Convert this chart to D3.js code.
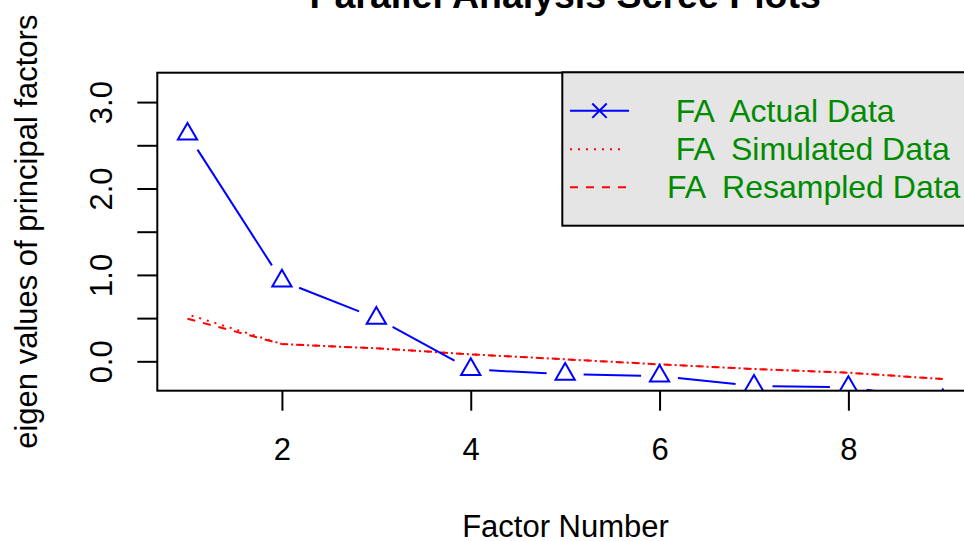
<!DOCTYPE html>
<html><head><meta charset="utf-8">
<script src="https://cdn.jsdelivr.net/npm/d3@7"></script>
<style>
body{margin:0;background:#fff}
svg{display:block}
text{font-family:"Liberation Sans",Arial,Helvetica,sans-serif}
</style>
</head><body>
<svg id="c" width="964" height="541"></svg>
<script>
const factors = [1, 2, 3, 4, 5, 6, 7, 8, 9];
const actual = [2.63, 0.93, 0.50, -0.094, -0.149, -0.17, -0.286, -0.30, -0.455];
const simulated = [0.544, 0.20, 0.15, 0.081, 0.023, -0.035, -0.089, -0.132, -0.205];
const resampled = [0.493, 0.20, 0.15, 0.081, 0.023, -0.035, -0.089, -0.132, -0.205];
const xTicks = [2, 4, 6, 8];
const yTicks = [0, 0.5, 1, 1.5, 2, 2.5, 3];
const yTickLabels = ["0.0", "", "1.0", "", "2.0", "", "3.0"];
const legendLabels = ["  FA  Actual Data", "  FA  Simulated Data", " FA  Resampled Data"];
const titleText = "Parallel Analysis Scree Plots";
const xTitle = "Factor Number";
const yTitle = "eigen values of principal factors";

const svg = d3.select("#c");
const L = 157.3, R = 973, T = 72.7, B = 390.7;
const x = d3.scaleLinear().domain([0.68, 9.32]).range([L, R]);
const y = d3.scaleLinear().domain([-0.34, 3.34]).range([B, T]);
const FS = 31;

svg.append("defs").append("clipPath").attr("id", "clip")
  .append("rect").attr("x", L).attr("y", T).attr("width", R - L).attr("height", B - T);

// Title
svg.append("text").attr("x", (L + R) / 2).attr("y", 8)
  .attr("text-anchor", "middle").attr("font-weight", "bold").attr("font-size", 37.5)
  .text(titleText);

// X axis
const xAxis = svg.append("g").attr("transform", `translate(0,${B})`)
  .call(d3.axisBottom(x).tickValues(xTicks).tickFormat(d3.format("d")).tickSize(20).tickPadding(27));
xAxis.select(".domain").remove();
xAxis.selectAll("line").attr("stroke", "#000").attr("stroke-width", 2);
xAxis.selectAll("text").attr("font-size", FS).attr("fill", "#000")
  .attr("font-family", "'Liberation Sans',Arial,sans-serif");

// Y axis
const yAxis = svg.append("g").attr("transform", `translate(${L},0)`)
  .call(d3.axisLeft(y).tickValues(yTicks).tickFormat((d, i) => yTickLabels[i]).tickSize(20));
yAxis.select(".domain").remove();
yAxis.selectAll("line").attr("stroke", "#000").attr("stroke-width", 2);
yAxis.selectAll("text").remove();
yAxis.selectAll(".tick").append("text")
  .attr("transform", "translate(-45,0) rotate(-90)")
  .attr("text-anchor", "middle").attr("font-size", FS).attr("fill", "#000")
  .text((d, i) => yTickLabels[i]);

// Axis titles
svg.append("text").attr("x", 565.5).attr("y", 536.5).attr("text-anchor", "middle")
  .attr("font-size", FS).text(xTitle);
svg.append("text").attr("transform", `translate(36.5,${(T + B) / 2}) rotate(-90)`)
  .attr("text-anchor", "middle").attr("font-size", FS).text(yTitle);

const plot = svg.append("g").attr("clip-path", "url(#clip)");

// Red lines (dotted + dashed overlapping -> dash-dot look)
const line = d3.line().x((d, i) => x(factors[i])).y(d => y(d));
const seg1 = arr => Math.hypot(x(factors[1]) - x(factors[0]), y(arr[1]) - y(arr[0]));
const L1s = seg1(simulated), L1r = seg1(resampled);
const dotOff = (((L1r - L1s - 3) % 8) + 8) % 8;
plot.append("path").datum(resampled).attr("d", line).attr("fill", "none")
  .attr("stroke", "#ff0000").attr("stroke-width", 2).attr("stroke-dasharray", "8,8");
plot.append("path").datum(simulated).attr("d", line).attr("fill", "none")
  .attr("stroke", "#ff0000").attr("stroke-width", 2).attr("stroke-dasharray", "2,6")
  .attr("stroke-dashoffset", dotOff);

// Actual: type "b" with gaps around points
const pts = factors.map((f, i) => [x(f), y(actual[i])]);
const gap = 18.5;
const segs = [];
for (let i = 0; i < pts.length - 1; i++) {
  const [x0, y0] = pts[i], [x1, y1] = pts[i + 1];
  const d = Math.hypot(x1 - x0, y1 - y0);
  if (d > 2 * gap) {
    const ux = (x1 - x0) / d, uy = (y1 - y0) / d;
    segs.push([x0 + ux * gap, y0 + uy * gap, x1 - ux * gap, y1 - uy * gap]);
  }
}
plot.selectAll("line.seg").data(segs).join("line").attr("class", "seg")
  .attr("x1", d => d[0]).attr("y1", d => d[1]).attr("x2", d => d[2]).attr("y2", d => d[3])
  .attr("stroke", "#0000ff").attr("stroke-width", 2);
const rr = 11.1, xc = 9.64, yc = 5.55;
plot.selectAll("path.tri").data(pts).join("path").attr("class", "tri")
  .attr("d", d => `M${d[0]},${d[1] - rr}L${d[0] + xc},${d[1] + yc}L${d[0] - xc},${d[1] + yc}Z`)
  .attr("fill", "none").attr("stroke", "#0000ff").attr("stroke-width", 2);

// Plot box
svg.append("rect").attr("x", L).attr("y", T).attr("width", R - L + 10).attr("height", B - T)
  .attr("fill", "none").attr("stroke", "#000").attr("stroke-width", 2);

// Legend
const lg = svg.append("g");
lg.append("rect").attr("x", 562.3).attr("y", 72.3).attr("width", 450).attr("height", 153.4)
  .attr("fill", "#e5e5e5").attr("stroke", "#000").attr("stroke-width", 2);
const rows = [110.7, 149.3, 187.3];
const styles = [
  {c: "#0000ff", dash: null, x2: 629},
  {c: "#ff0000", dash: "2,6", x2: 624},
  {c: "#ff0000", dash: "8,8", x2: 627}
];
legendLabels.forEach((lab, i) => {
  lg.append("line").attr("x1", 570).attr("x2", styles[i].x2).attr("y1", rows[i]).attr("y2", rows[i])
    .attr("stroke", styles[i].c).attr("stroke-width", 2).attr("stroke-dasharray", styles[i].dash);
  lg.append("text").attr("x", 658).attr("y", rows[i] + 11).attr("font-size", 32)
    .attr("fill", "#008b00").style("white-space", "pre").text(lab);
});
// pch 4 marker in legend
const mx = 599.5, my = rows[0], ms = 7.2;
lg.append("path").attr("d", `M${mx - ms},${my - ms}L${mx + ms},${my + ms}M${mx - ms},${my + ms}L${mx + ms},${my - ms}`)
  .attr("stroke", "#0000ff").attr("stroke-width", 2).attr("fill", "none");
</script>
</body></html>
